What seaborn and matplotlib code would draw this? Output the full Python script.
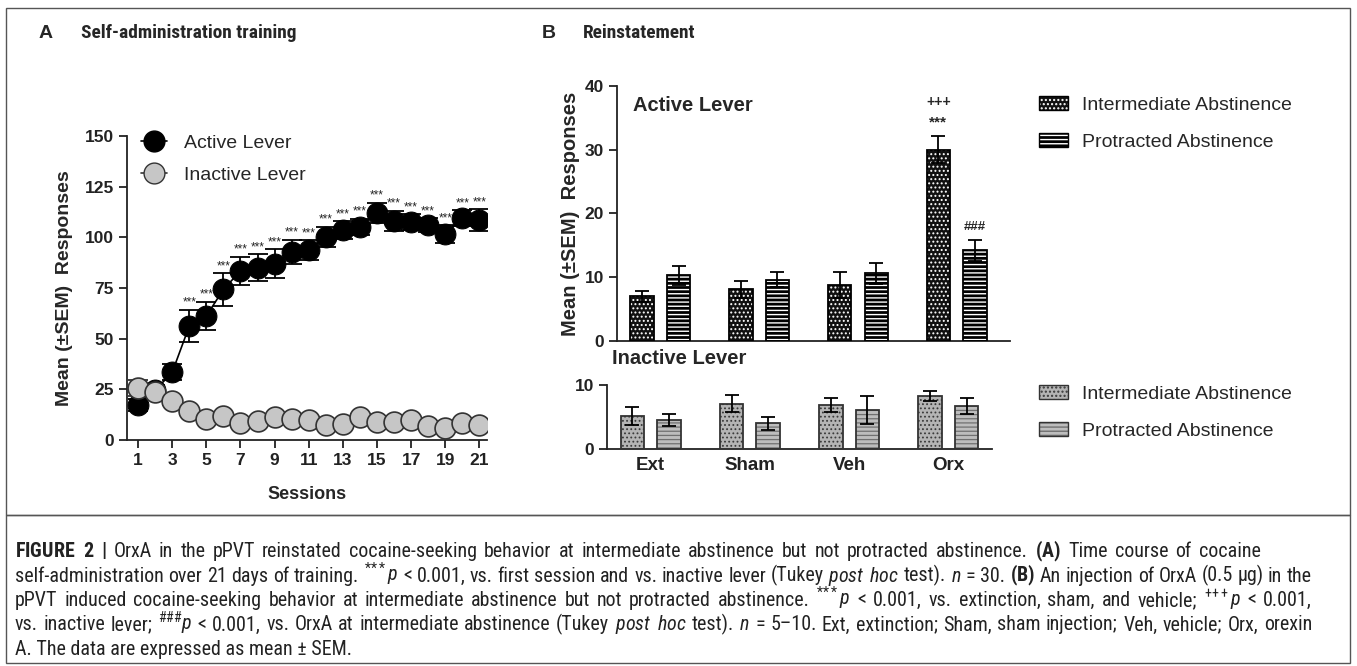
import matplotlib
matplotlib.use('Agg')
import numpy as np
import pandas as pd
import matplotlib.pyplot as plt
import seaborn as sns
from matplotlib import font_manager
from matplotlib.patches import Patch, Rectangle
from matplotlib.lines import Line2D

# --- panel A: self-administration ---
sessions = list(range(1, 22))
active_mean = [17.3, 24.5, 33.4, 56.2, 61.2, 74.3, 83.4, 85.1, 87.0, 92.8, 93.6,
               100.2, 103.5, 105.2, 112.1, 108.2, 107.4, 106.0, 101.5, 109.5, 108.5]
active_sem = [3.0, 2.5, 4.0, 8.0, 7.0, 8.0, 7.0, 6.5, 7.0, 6.0, 5.0,
              5.0, 4.5, 4.0, 5.0, 5.0, 4.0, 3.5, 4.5, 4.0, 5.5]
inactive_mean = [25.5, 23.8, 19.2, 14.3, 10.4, 11.8, 8.5, 9.5, 11.2, 10.4, 9.9,
                 7.4, 7.9, 11.2, 9.0, 9.0, 9.9, 7.1, 6.1, 8.5, 7.5]
inactive_sem = [4.0, 2.0, 2.0, 1.5, 1.5, 1.5, 1.5, 1.5, 1.5, 1.5, 1.5,
                1.5, 1.5, 1.5, 1.5, 1.5, 1.5, 1.5, 1.5, 1.5, 1.5]
star_sessions = list(range(4, 22))

# --- panel B: reinstatement ---
groups = ['Ext', 'Sham', 'Veh', 'Orx']
abstinence = ['Intermediate Abstinence', 'Protracted Abstinence']
act_int = [7.0, 8.1, 8.8, 30.0]
act_int_sem = [0.9, 1.3, 2.0, 2.1]
act_prot = [10.3, 9.6, 10.6, 14.2]
act_prot_sem = [1.5, 1.2, 1.6, 1.6]
inact_int = [5.1, 7.1, 6.9, 8.3]
inact_int_sem = [1.4, 1.3, 1.1, 0.8]
inact_prot = [4.5, 4.0, 6.1, 6.7]
inact_prot_sem = [0.9, 1.0, 2.2, 1.3]

# caption, one entry per printed line (words split on single spaces)
caption_lines = [
    r"$\mathbf{FIGURE}$ $\mathbf{2}$ $\mathbf{|}$ OrxA in the pPVT reinstated cocaine-seeking behavior at intermediate abstinence but not protracted abstinence. $\mathbf{(A)}$ Time course of cocaine",
    r"self-administration over 21 days of training. $^{*\!*\!*}\mathit{p}$ < 0.001, vs. first session and vs. inactive lever (Tukey $\mathit{post}$ $\mathit{hoc}$ test). $\mathit{n}$ = 30. $\mathbf{(B)}$ An injection of OrxA (0.5 μg) in the",
    r"pPVT induced cocaine-seeking behavior at intermediate abstinence but not protracted abstinence. $^{*\!*\!*}\mathit{p}$ < 0.001, vs. extinction, sham, and vehicle; $^{+\!+\!+}\mathit{p}$ < 0.001,",
    r"vs. inactive lever; $^{\#\#\#}\mathit{p}$ < 0.001, vs. OrxA at intermediate abstinence (Tukey $\mathit{post}$ $\mathit{hoc}$ test). $\mathit{n}$ = 5–10. Ext, extinction; Sham, sham injection; Veh, vehicle; Orx, orexin",
    r"A. The data are expressed as mean ± SEM.",
]

sns.set_style('ticks')
available = {f.name for f in font_manager.fontManager.ttflist}
COND = next((n for n in ['Liberation Sans Narrow', 'Roboto Condensed', 'Archivo Narrow',
                         'IBM Plex Sans Condensed', 'Fira Sans Condensed', 'Liberation Sans']
             if n in available), 'DejaVu Sans')
plt.rcParams['font.family'] = ['Liberation Sans', 'DejaVu Sans']
plt.rcParams.update({
    'mathtext.fontset': 'custom',
    'mathtext.rm': COND,
    'mathtext.it': COND + ':italic',
    'mathtext.bf': COND + ':bold',
    'axes.edgecolor': '#222222',
    'axes.linewidth': 1.3,
    'xtick.color': '#222222',
    'ytick.color': '#222222',
    'xtick.major.width': 1.3,
    'ytick.major.width': 1.3,
    'xtick.major.size': 6,
    'ytick.major.size': 6,
})

W, H = 1357, 666
fig = plt.figure(figsize=(W / 100, H / 100), dpi=100)


def px_axes(x0, y0, x1, y1):
    return fig.add_axes([x0 / W, 1 - y1 / H, (x1 - x0) / W, (y1 - y0) / H])


def fig_text(x, y, s, **kw):
    return fig.text(x / W, 1 - y / H, s, **kw)


# ---------- A ----------
axA = px_axes(127, 136, 487, 440)
axA.errorbar(sessions, active_mean, yerr=active_sem, fmt='none', ecolor='black',
             elinewidth=1.3, capsize=7, capthick=1.3, zorder=2)
sns.lineplot(x=sessions, y=active_mean, color='black', lw=1.2, marker='o', markersize=15,
             markeredgecolor='black', ax=axA, zorder=3)
axA.errorbar(sessions, inactive_mean, yerr=inactive_sem, fmt='none', ecolor='#333333',
             elinewidth=1.3, capsize=7, capthick=1.3, zorder=4)
sns.lineplot(x=sessions, y=inactive_mean, color='#333333', lw=1.2, marker='o', markersize=15,
             markerfacecolor='#c6c6c6', markeredgecolor='#333333', markeredgewidth=1.2,
             ax=axA, zorder=5)
for s in star_sessions:
    axA.text(s, active_mean[s - 1] + active_sem[s - 1] + 0.5, '***', ha='center', va='bottom',
             fontsize=8.5, zorder=6)
axA.set_xlim(0.35, 21.45)
axA.set_ylim(0, 150)
axA.set_xticks(range(1, 22, 2))
axA.set_yticks(range(0, 151, 25))
axA.tick_params(labelsize=12.5)
for lab in axA.get_xticklabels() + axA.get_yticklabels():
    lab.set_fontweight('bold')
axA.set_xlabel('Sessions', fontsize=13, fontweight='bold', labelpad=13)
axA.set_ylabel('Mean (±SEM)  Responses', fontsize=14, fontweight='bold', labelpad=8)
sns.despine(ax=axA)
legA = [Line2D([0], [0], color='black', lw=1.2, marker='o', markersize=15),
        Line2D([0], [0], color='#333333', lw=1.2, marker='o', markersize=15,
               markerfacecolor='#c6c6c6', markeredgecolor='#333333')]
axA.legend(legA, ['Active Lever', 'Inactive Lever'], loc='center left',
           bbox_to_anchor=(0.04, 0.924), frameon=False, fontsize=14, handlelength=1.3,
           handletextpad=0.9, labelspacing=0.72, borderpad=0, borderaxespad=0)

# ---------- B ----------
styles = {
    ('top', 0): dict(face='#111111', hatch='....', hc='white', hlw=0.9, edge='black'),
    ('top', 1): dict(face='black', hatch='----', hc='white', hlw=1.0, edge='black'),
    ('bot', 0): dict(face='#b4b4b4', hatch='....', hc='#3a3a3a', hlw=0.8, edge='#333333'),
    ('bot', 1): dict(face='#bdbdbd', hatch='----', hc='#707070', hlw=0.9, edge='#333333'),
}


def style_patch(p, st):
    p.set_facecolor(st['face'])
    p.set_edgecolor(st['hc'])
    p.set_hatch(st['hatch'])
    p.set_linewidth(0)
    if hasattr(p, 'set_hatch_linewidth'):
        p.set_hatch_linewidth(st['hlw'])


def bar_panel(ax, key, int_vals, int_sem, prot_vals, prot_sem):
    df = pd.DataFrame({'group': groups * 2,
                       'abst': [abstinence[0]] * 4 + [abstinence[1]] * 4,
                       'resp': int_vals + prot_vals})
    sns.barplot(data=df, x='group', y='resp', hue='abst', order=groups, hue_order=abstinence,
                width=0.74, gap=0.36, errorbar=None, legend=False, ax=ax)
    for k, (cont, sem) in enumerate(zip(ax.containers, [int_sem, prot_sem])):
        st = styles[(key, k)]
        xs, hs = [], []
        for p in cont:
            style_patch(p, st)
            ax.add_patch(Rectangle(p.get_xy(), p.get_width(), p.get_height(), fill=False,
                                   edgecolor=st['edge'], lw=1.3, zorder=3))
            xs.append(p.get_x() + p.get_width() / 2)
            hs.append(p.get_height())
        ax.errorbar(xs, hs, yerr=sem, fmt='none', ecolor='black', elinewidth=1.3,
                    capsize=5, capthick=1.3, zorder=4)
    sns.despine(ax=ax)
    ax.set_xlabel('')
    ax.set_ylabel('')
    ax.tick_params(axis='x', length=0)
    ax.tick_params(axis='y', labelsize=12.5)
    for lab in ax.get_yticklabels() + ax.get_xticklabels():
        lab.set_fontweight('bold')
    return ax


axT = px_axes(617, 86, 1010, 341)
bar_panel(axT, 'top', act_int, act_int_sem, act_prot, act_prot_sem)
axT.set_xlim(-0.44, 3.54)
axT.set_ylim(0, 40)
axT.set_yticks(range(0, 41, 10))
axT.set_xticklabels([])
axT.set_ylabel('Mean (±SEM)  Responses', fontsize=14.5, fontweight='bold', labelpad=3)
axT.text(0.04, 0.925, 'Active Lever', transform=axT.transAxes, fontsize=14.5,
         fontweight='bold', va='center')
orx_int_top = act_int[3] + act_int_sem[3]
orx_prot_top = act_prot[3] + act_prot_sem[3]
xi = axT.containers[0][3].get_x() + axT.containers[0][3].get_width() / 2
xp = axT.containers[1][3].get_x() + axT.containers[1][3].get_width() / 2
axT.text(xi, orx_int_top + 1.1, '***', ha='center', va='bottom', fontsize=11, fontweight='bold')
axT.text(xi, orx_int_top + 4.3, '+++', ha='center', va='bottom', fontsize=10, fontweight='bold')
axT.text(xp, orx_prot_top + 1.1, '###', ha='center', va='bottom', fontsize=9.5, fontweight='bold')

axB = px_axes(607, 385, 992, 449)
bar_panel(axB, 'bot', inact_int, inact_int_sem, inact_prot, inact_prot_sem)
axB.set_xlim(-0.44, 3.44)
axB.set_ylim(0, 10)
axB.set_yticks([0, 10])
axB.tick_params(axis='x', labelsize=13.5, pad=6)
fig_text(612, 359, 'Inactive Lever', fontsize=14.5, fontweight='bold', va='center')


def legend_handles(key):
    hs = []
    for k in range(2):
        st = styles[(key, k)]
        hp = Patch(facecolor=st['face'], edgecolor=st['hc'], hatch=st['hatch'], lw=0)
        if hasattr(hp, 'set_hatch_linewidth'):
            hp.set_hatch_linewidth(st['hlw'])
        hs.append((hp, Patch(fill=False, edgecolor=st['edge'], lw=1.0)))
    return hs


for key, yc in [('top', 123.6), ('bot', 412.5)]:
    fig.legend(legend_handles(key), abstinence, loc='center left',
               bbox_to_anchor=(1039 / W, 1 - yc / H), frameon=False, fontsize=14,
               handlelength=1.48, handleheight=0.72, handletextpad=0.72,
               labelspacing=0.98, borderpad=0, borderaxespad=0)

# ---------- titles ----------
fig_text(39, 33, 'A', fontsize=14, fontweight='bold', va='center')
tA = fig_text(81, 33, 'Self-administration training', fontsize=14,
              fontweight='bold', va='center', family=COND)
fig_text(542, 33, 'B', fontsize=14, fontweight='bold', va='center')
tB = fig_text(583, 33, 'Reinstatement', fontsize=14,
              fontweight='bold', va='center', family=COND)

# ---------- caption (near-justified, last line ragged) ----------
probe = fig_text(15, 600, caption_lines[1], fontsize=12, family=COND)
fig.canvas.draw()
rend = fig.canvas.get_renderer()
cap_fs = 12 * (1300 - 15) / probe.get_window_extent(rend).width
probe.remove()
tA.set_fontsize(14 * 217 / tA.get_window_extent(rend).width)
tB.set_fontsize(tA.get_fontsize())

cap_rows = []
for i, line in enumerate(caption_lines):
    y = 557 + 24.5 * i
    if i == len(caption_lines) - 1:
        fig_text(15, y, line, fontsize=cap_fs, va='baseline', family=COND, color='#222222')
    else:
        full = fig_text(15, 600, line, fontsize=cap_fs, family=COND)
        words = [fig_text(15, y, w, fontsize=cap_fs, va='baseline', family=COND,
                          color='#222222') for w in line.split(' ')]
        cap_rows.append((full, words))
fig.canvas.draw()
for full, words in cap_rows:
    widths = [t.get_window_extent(rend).width for t in words]
    natural = (full.get_window_extent(rend).width - sum(widths)) / (len(words) - 1)
    full.remove()
    needed = (1312 - 15 - sum(widths)) / (len(words) - 1)
    gap = min(needed, natural * 1.6)
    x = 15
    for t, wd in zip(words, widths):
        t.set_x(x / W)
        x += wd + gap

# ---------- frames ----------
fig.patches.append(Rectangle((6 / W, 1 - 515 / H), 1344 / W, 507 / H, transform=fig.transFigure,
                             fill=False, edgecolor='#555555', lw=1.0))
fig.patches.append(Rectangle((6 / W, 1 - 663 / H), 1344 / W, 148 / H, transform=fig.transFigure,
                             fill=False, edgecolor='#555555', lw=1.0))

fig.savefig('out.png', dpi=100)
